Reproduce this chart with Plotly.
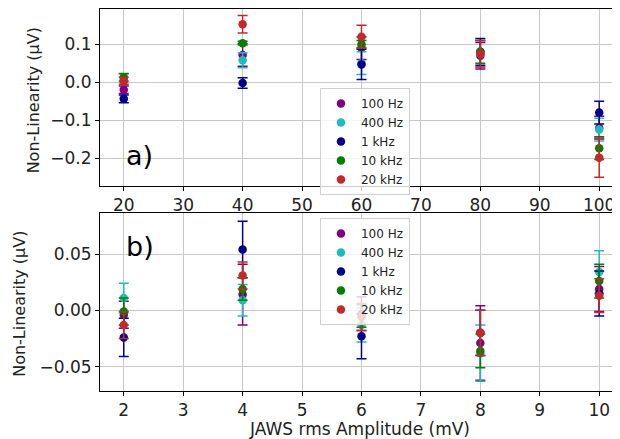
import plotly.graph_objects as go

freqs = ["100 Hz", "400 Hz", "1 kHz", "10 kHz", "20 kHz"]
colors = ["#800080", "#1fbcbc", "#00008b", "#008000", "#c62828"]

x_top = [20, 40, 60, 80, 100]
x_bot = [2, 4, 6, 8, 10]

top_vals = {
    "100 Hz": [-0.020, 0.072, 0.090, 0.070, -0.120],
    "400 Hz": [0.010, 0.058, 0.050, 0.075, -0.125],
    "1 kHz": [-0.044, -0.002, 0.047, 0.080, -0.080],
    "10 kHz": [0.013, 0.103, 0.100, 0.080, -0.174],
    "20 kHz": [0.003, 0.153, 0.120, 0.075, -0.199],
}
top_errs = {
    "100 Hz": [0.010, 0.030, 0.030, 0.035, 0.030],
    "400 Hz": [0.012, 0.020, 0.030, 0.035, 0.030],
    "1 kHz": [0.010, 0.014, 0.040, 0.035, 0.030],
    "10 kHz": [0.010, 0.005, 0.010, 0.030, 0.030],
    "20 kHz": [0.010, 0.023, 0.030, 0.035, 0.052],
}
bot_vals = {
    "100 Hz": [-0.004, 0.014, -0.003, -0.029, 0.019],
    "400 Hz": [0.011, 0.009, -0.013, -0.038, 0.034],
    "1 kHz": [-0.024, 0.054, -0.023, -0.020, 0.015],
    "10 kHz": [-0.001, 0.019, -0.005, -0.036, 0.026],
    "20 kHz": [-0.013, 0.031, -0.006, -0.020, 0.013],
}
bot_errs = {
    "100 Hz": [0.012, 0.027, 0.015, 0.033, 0.020],
    "400 Hz": [0.013, 0.014, 0.015, 0.025, 0.019],
    "1 kHz": [0.017, 0.025, 0.020, 0.020, 0.020],
    "10 kHz": [0.012, 0.010, 0.010, 0.015, 0.015],
    "20 kHz": [0.012, 0.012, 0.012, 0.020, 0.015],
}

FONT = "DejaVu Sans"
fig = go.Figure()

for f, c in zip(freqs, colors):
    fig.add_trace(go.Scatter(
        x=x_top, y=top_vals[f], mode="markers", name=f,
        marker=dict(color=c, size=8.5),
        error_y=dict(type="data", array=top_errs[f], color=c, thickness=1.5, width=5),
        xaxis="x", yaxis="y", legend="legend",
    ))
for f, c in zip(freqs, colors):
    fig.add_trace(go.Scatter(
        x=x_bot, y=bot_vals[f], mode="markers", name=f,
        marker=dict(color=c, size=8.5),
        error_y=dict(type="data", array=bot_errs[f], color=c, thickness=1.5, width=5),
        xaxis="x2", yaxis="y2", legend="legend2",
    ))

axis_common = dict(
    showgrid=True, gridcolor="#c8c8c8", gridwidth=1,
    showline=True, linecolor="black", linewidth=1,
    ticks="outside", ticklen=4, tickcolor="black",
    tickfont=dict(family=FONT, size=17, color="#222"),
    zeroline=False,
)

top_dom = [0.5374, 1]
bot_dom = [0, 0.4668]

fig.update_layout(
    width=612, height=431,
    margin=dict(l=92, r=0, t=1, b=48),
    paper_bgcolor="white", plot_bgcolor="white",
    font=dict(family=FONT, size=17, color="#222"),
    xaxis=dict(axis_common, domain=[0, 1], range=[16, 103.5], anchor="y",
               tickvals=[20, 30, 40, 50, 60, 70, 80, 90, 100], mirror=True),
    yaxis=dict(axis_common, domain=top_dom, range=[-0.2731, 0.1931], anchor="x",
               tickvals=[-0.2, -0.1, 0.0, 0.1], tickformat=".1f"),
    xaxis2=dict(axis_common, domain=[0, 1], range=[1.6, 10.35], anchor="y2",
                tickvals=[2, 3, 4, 5, 6, 7, 8, 9, 10], mirror=True,
                title=dict(text="JAWS rms Amplitude (mV)", font=dict(family=FONT, size=17), standoff=2)),
    yaxis2=dict(axis_common, domain=bot_dom, range=[-0.0716, 0.0867], anchor="x2",
                tickvals=[-0.05, 0.0, 0.05], tickformat=".2f"),
    legend=dict(x=0.423, y=0.793, xanchor="left", yanchor="top",
                bgcolor="rgba(255,255,255,0.8)", bordercolor="#d0d0d0", borderwidth=1,
                font=dict(family=FONT, size=12), tracegroupgap=0),
    legend2=dict(x=0.423, y=0.453, xanchor="left", yanchor="top",
                 bgcolor="rgba(255,255,255,0.8)", bordercolor="#d0d0d0", borderwidth=1,
                 font=dict(family=FONT, size=12), tracegroupgap=0),
    annotations=[
        dict(text="a)", x=20, y=-0.194, xref="x", yref="y", showarrow=False,
             xanchor="left", font=dict(family=FONT, size=27, color="black")),
        dict(text="b)", x=2, y=0.0568, xref="x2", yref="y2", showarrow=False,
             xanchor="left", font=dict(family=FONT, size=27, color="black")),
        dict(text="Non-Linearity (µV)", textangle=-90, x=0, xref="paper", xshift=-67,
             y=(top_dom[0] + top_dom[1]) / 2, yref="paper", yshift=-3, showarrow=False,
             xanchor="center", yanchor="middle", font=dict(family=FONT, size=16, color="#222")),
        dict(text="Non-Linearity (µV)", textangle=-90, x=0, xref="paper", xshift=-80,
             y=(bot_dom[0] + bot_dom[1]) / 2, yref="paper", yshift=-2, showarrow=False,
             xanchor="center", yanchor="middle", font=dict(family=FONT, size=16, color="#222")),
    ],
)

fig.write_html("out.html")
